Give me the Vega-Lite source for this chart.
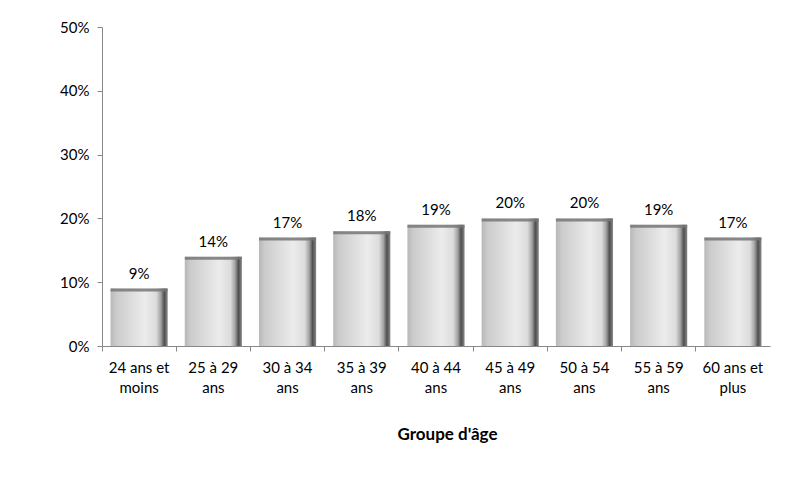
{
  "$schema": "https://vega.github.io/schema/vega-lite/v6.json",
  "autosize": "none",
  "padding": {"left": 102, "top": 27, "right": 29, "bottom": 141},
  "width": 668,
  "height": 319,
  "background": "white",
  "config": {
    "view": {"stroke": null},
    "font": "Lato",
    "axis": {"labelFont": "Lato", "titleFont": "Lato", "labelColor": "#000", "titleColor": "#000", "domainColor": "#888", "tickColor": "#888", "labelFontSize": 15, "labelFontWeight": "normal", "grid": false}
  },
  "data": {
    "values": [
      {"groupe": "24 ans et moins", "part": 0.09},
      {"groupe": "25 à 29 ans", "part": 0.14},
      {"groupe": "30 à 34 ans", "part": 0.17},
      {"groupe": "35 à 39 ans", "part": 0.18},
      {"groupe": "40 à 44 ans", "part": 0.19},
      {"groupe": "45 à 49 ans", "part": 0.20},
      {"groupe": "50 à 54 ans", "part": 0.20},
      {"groupe": "55 à 59 ans", "part": 0.19},
      {"groupe": "60 ans et plus", "part": 0.17}
    ]
  },
  "encoding": {
    "y": {
      "field": "part", "type": "quantitative",
      "scale": {"domain": [0, 0.5]},
      "axis": {"title": null, "format": ".0%", "values": [0, 0.1, 0.2, 0.3, 0.4, 0.5], "tickSize": 5, "labelPadding": 8, "domainWidth": 1}
    }
  },
  "layer": [
    {
      "mark": {
        "type": "bar",
        "color": {
          "gradient": "linear", "x1": 0, "x2": 1, "y1": 0, "y2": 0,
          "stops": [
            {"offset": 0, "color": "#b8b8b8"},
            {"offset": 0.1, "color": "#cbcbcb"},
            {"offset": 0.6, "color": "#ececec"},
            {"offset": 0.8, "color": "#dcdcdc"},
            {"offset": 0.88, "color": "#a2a2a2"},
            {"offset": 0.94, "color": "#4e4e4e"},
            {"offset": 1, "color": "#8a8a8a"}
          ]
        }
      },
      "encoding": {
        "x": {
          "field": "groupe", "type": "nominal", "sort": null,
          "scale": {"paddingInner": 0.23, "paddingOuter": 0.115},
          "axis": {
            "orient": "bottom",
            "title": "Groupe d'âge", "titleFontSize": 17, "titleFontWeight": "bold",
            "titlePadding": 31, "titleX": 345,
            "labelAngle": 0, "labelPadding": 14, "labelLineHeight": 20,
            "labelExpr": "[slice(datum.label, 0, lastindexof(datum.label, ' ')), slice(datum.label, lastindexof(datum.label, ' ') + 1)]",
            "ticks": false, "domainWidth": 1
          }
        }
      }
    },
    {
      "mark": {"type": "tick", "size": 57, "thickness": 3, "yOffset": 1.5, "color": "#777777", "opacity": 0.85},
      "encoding": {"x": {"field": "groupe", "type": "nominal", "sort": null, "axis": null}}
    },
    {
      "mark": {"type": "text", "baseline": "bottom", "dy": -7, "fontSize": 15, "color": "#000"},
      "encoding": {
        "x": {"field": "groupe", "type": "nominal", "sort": null, "axis": null},
        "text": {"field": "part", "type": "quantitative", "format": ".0%"}
      }
    },
    {
      "mark": {"type": "tick", "size": 0, "opacity": 0},
      "encoding": {
        "x": {
          "field": "groupe", "type": "nominal", "sort": null,
          "axis": {"orient": "bottom", "title": null, "labels": false, "domain": false, "ticks": true, "tickSize": 5, "bandPosition": -0.149, "tickColor": "#888"}
        }
      }
    }
  ],
  "resolve": {"axis": {"x": "independent"}}
}
